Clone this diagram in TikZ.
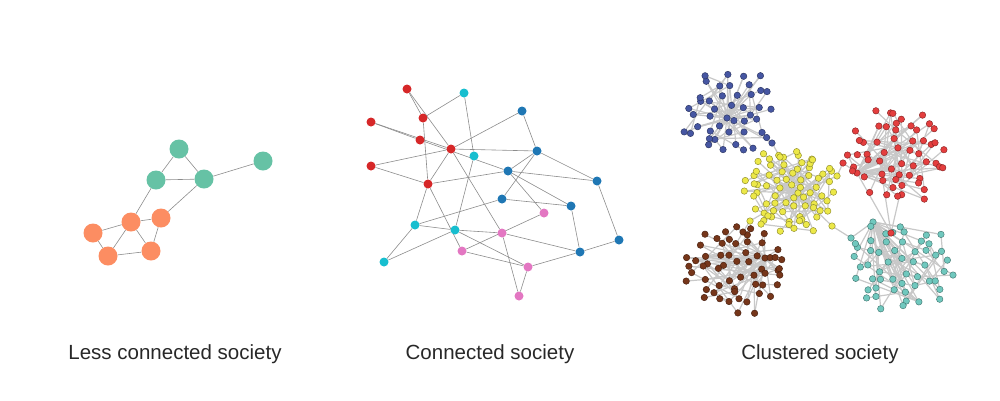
\documentclass[tikz,border=0pt]{standalone}
\usepackage{fontspec}
\setmainfont{Liberation Sans}
\usepackage{tikz}
\usetikzlibrary{backgrounds}
\usepackage{xcolor}
\definecolor{cvert}{RGB}{102,194,165}
\definecolor{corange}{RGB}{252,141,98}
\definecolor{crouge}{RGB}{214,39,40}
\definecolor{ccyan}{RGB}{23,190,207}
\definecolor{cbleu}{RGB}{31,119,180}
\definecolor{crose}{RGB}{227,119,194}
\definecolor{kbleu}{RGB}{70,86,162}
\definecolor{krouge}{RGB}{228,62,62}
\definecolor{kjaune}{RGB}{236,232,72}
\definecolor{kbrun}{RGB}{118,54,26}
\definecolor{kturq}{RGB}{112,200,190}
\definecolor{cfil}{RGB}{140,140,140}
\definecolor{kfil}{RGB}{200,200,200}
\definecolor{ctexte}{RGB}{40,40,40}

\newcommand{\cluster}[9]{%
  \node[dot=#2] (#11) at (#8,#9) {};
  \foreach \i in {2,...,#3}{
    \pgfmathsetmacro\ang{\i*137.508+25*rnd}
    \pgfmathsetmacro\dst{sqrt((\i-0.5)/#3)*(0.88+0.2*rnd)}
    \node[dot=#2] (#1\i) at ({#4+#6*\dst*cos(\ang)},{#5+#7*\dst*sin(\ang)}) {};
  }
  \begin{pgfonlayer}{background}
  \foreach \i in {2,...,#3}{
    \pgfmathtruncatemacro\j{1+floor(rnd*(\i-1))}
    \pgfmathtruncatemacro\hub{rnd<0.55}
    \draw[link] (#1\i) -- (#1\j);
    \ifnum\hub=1 \draw[link] (#1\i) -- (#11);\fi
  }
  \end{pgfonlayer}
}

\begin{document}
\begin{tikzpicture}[x=1pt, y=-1pt,
  big/.style={circle,fill=#1,inner sep=0pt,minimum size=19pt},
  small/.style={circle,fill=#1,inner sep=0pt,minimum size=9pt},
  dot/.style={circle,fill=#1,draw=#1!60!black,line width=0.45pt,inner sep=0pt,minimum size=6.5pt},
  wire/.style={draw=cfil,line width=0.6pt},
  link/.style={draw=kfil,line width=1.2pt},
  lbl/.style={anchor=base,text=ctexte,font=\fontsize{20.5}{24}\selectfont}]
\useasboundingbox (0,0) rectangle (1000,400);
\pgfmathsetseed{7}

% less connected
\node[big=cvert] (g1) at (179,149) {};
\node[big=cvert] (g2) at (156,180) {};
\node[big=cvert] (g3) at (204,179) {};
\node[big=cvert] (g4) at (263,161) {};
\node[big=corange] (o1) at (131,222) {};
\node[big=corange] (o2) at (161,218) {};
\node[big=corange] (o3) at (93,233) {};
\node[big=corange] (o4) at (108,256) {};
\node[big=corange] (o5) at (151,251) {};
\begin{pgfonlayer}{background}
\foreach \a/\b in {g1/g2,g1/g3,g2/g3,g3/g4,g2/o1,g3/o2,o1/o2,o3/o1,o1/o4,o1/o5,o2/o5,o3/o4,o4/o5}
  \draw[wire] (\a) -- (\b);
\end{pgfonlayer}
\node[lbl] (t1) at (175,359) {Less connected society};

% connected
\node[small=crouge] (r1) at (407,89) {};
\node[small=crouge] (r2) at (423,118) {};
\node[small=crouge] (r3) at (371,122) {};
\node[small=crouge] (r4) at (420,140) {};
\node[small=crouge] (r5) at (451,149) {};
\node[small=crouge] (r6) at (371,166) {};
\node[small=crouge] (r7) at (428,184) {};
\node[small=ccyan] (c1) at (464,93) {};
\node[small=ccyan] (c2) at (474,156) {};
\node[small=ccyan] (c3) at (415,225) {};
\node[small=ccyan] (c4) at (455,230) {};
\node[small=ccyan] (c5) at (384,262) {};
\node[small=cbleu] (b1) at (522,111) {};
\node[small=cbleu] (b2) at (537,151) {};
\node[small=cbleu] (b3) at (508,171) {};
\node[small=cbleu] (b4) at (597,181) {};
\node[small=cbleu] (b5) at (502,199) {};
\node[small=cbleu] (b6) at (571,206) {};
\node[small=cbleu] (b7) at (619,240) {};
\node[small=cbleu] (b8) at (580,252) {};
\node[small=crose] (p1) at (544,213) {};
\node[small=crose] (p2) at (502,233) {};
\node[small=crose] (p3) at (462,251) {};
\node[small=crose] (p4) at (528,267) {};
\node[small=crose] (p5) at (519,296) {};
\begin{pgfonlayer}{background}
\foreach \a/\b in {r1/r2,r1/r5,r2/c1,r2/r7,r3/r4,r3/r5,r4/b3,r5/b1,r5/b2,r5/r6,r5/r7,r5/p2,
  r6/r7,r7/b3,r7/c3,r7/p3,c1/c2,c2/c4,b1/b2,b2/b3,b2/b4,b2/b5,b3/b6,b3/b4,b3/p1,b5/b6,
  b5/c3,b6/b8,b4/b7,b7/b8,b8/p2,b8/p4,c3/c4,c3/c5,c4/c5,c4/p2,c4/p4,p1/p3,p2/p5,p4/p5,p3/p4}
  \draw[wire] (\a) -- (\b);
\end{pgfonlayer}
\node[lbl] (t2) at (490,359) {Connected society};

% clustered
\cluster{bl}{kbleu}{45}{728}{112}{47}{45}{727}{118}
\cluster{rd}{krouge}{58}{897}{155}{52}{48}{857}{173}
\cluster{ye}{kjaune}{75}{790}{191}{50}{45}{798}{193}
\cluster{br}{kbrun}{60}{736}{268}{53}{46}{765}{258}
\cluster{te}{kturq}{55}{900}{266}{56}{45}{873}{222}
\node[dot=kbleu] (blgate) at (772,143) {};
\node[dot=kjaune] (yegate1) at (780,157) {};
\node[dot=krouge] (rdgate1) at (843,163) {};
\node[dot=kjaune] (yegate2) at (837,176) {};
\node[dot=krouge] (rdgate2) at (891,233) {};
\node[dot=kjaune] (yegate3) at (832,226) {};
\node[dot=kturq] (tegate) at (851,238) {};
\node[dot=kjaune] (yegate4) at (750,221) {};
\node[dot=kbrun] (brgate) at (743,232) {};
\begin{pgfonlayer}{background}
\foreach \a/\b in {blgate/yegate1,blgate/bl1,yegate1/ye1,rdgate1/yegate2,rdgate1/rd1,
  yegate2/ye1,rdgate2/rd5,rdgate2/rd9,rdgate2/te1,rdgate2/rd1,yegate3/tegate,yegate3/ye1,
  tegate/te1,yegate4/brgate,yegate4/ye1,brgate/br1,brgate/br4}
  \draw[link] (\a) -- (\b);
\end{pgfonlayer}
\node[lbl] (t3) at (820,359) {Clustered society};
\end{tikzpicture}
\end{document}
